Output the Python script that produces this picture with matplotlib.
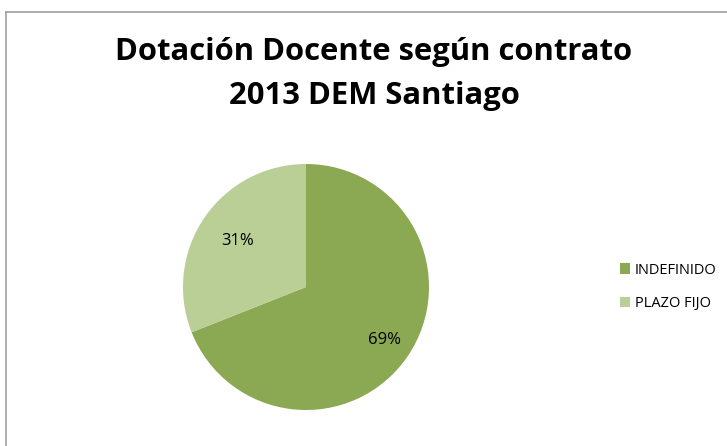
import matplotlib
matplotlib.use("Agg")
import matplotlib.pyplot as plt
from matplotlib.lines import Line2D
import numpy as np

categories = ["INDEFINIDO", "PLAZO FIJO"]
values = [69, 31]
colors = ["#8BA852", "#B9CF95"]
title_lines = ["Dotación Docente según contrato", "2013 DEM Santiago"]

plt.rcParams['font.family'] = ['Open Sans', 'DejaVu Sans']

fig = plt.figure(figsize=(7.27, 4.46), dpi=100)
fig.patch.set_facecolor("white")
# chart-area border: left and top edges only visible (the rest runs off the image)
bx, by = 5.5/727, 1 - 11.5/446
fig.add_artist(Line2D([bx, bx], [0, by], transform=fig.transFigure, color="#A0A0A0", linewidth=1.2))
fig.add_artist(Line2D([bx, 1], [by, by], transform=fig.transFigure, color="#A0A0A0", linewidth=1.2))

ax = fig.add_axes([0.2517, 0.0807, 0.3384, 0.5516])
wedges, texts, autotexts = ax.pie(values, colors=colors, startangle=90, counterclock=False,
                                  autopct=lambda p: f"{p:.0f}%", pctdistance=0.72,
                                  textprops=dict(fontsize=12, color="black"))
dists = [0.77, 0.67]
for w, t, d in zip(wedges, autotexts, dists):
    ang = np.deg2rad((w.theta1 + w.theta2) / 2)
    t.set_position((d * np.cos(ang), d * np.sin(ang)))
ax.set_aspect("equal")
ax.set_xlim(-1, 1)
ax.set_ylim(-1, 1)

tx = 374 / 727
fig.text(tx, 1 - 52/446, title_lines[0], ha="center", va="center", fontsize=22.3, fontweight="bold")
fig.text(tx, 1 - 96/446, title_lines[1], ha="center", va="center", fontsize=22.3, fontweight="bold")

leg = fig.legend(wedges, categories, loc="center left", bbox_to_anchor=(0.835, 1 - 287/446),
                 frameon=False, fontsize=10.5, handlelength=0.7, handleheight=0.7,
                 handletextpad=0.3, labelspacing=1.3)

fig.savefig("out.png", dpi=100)
